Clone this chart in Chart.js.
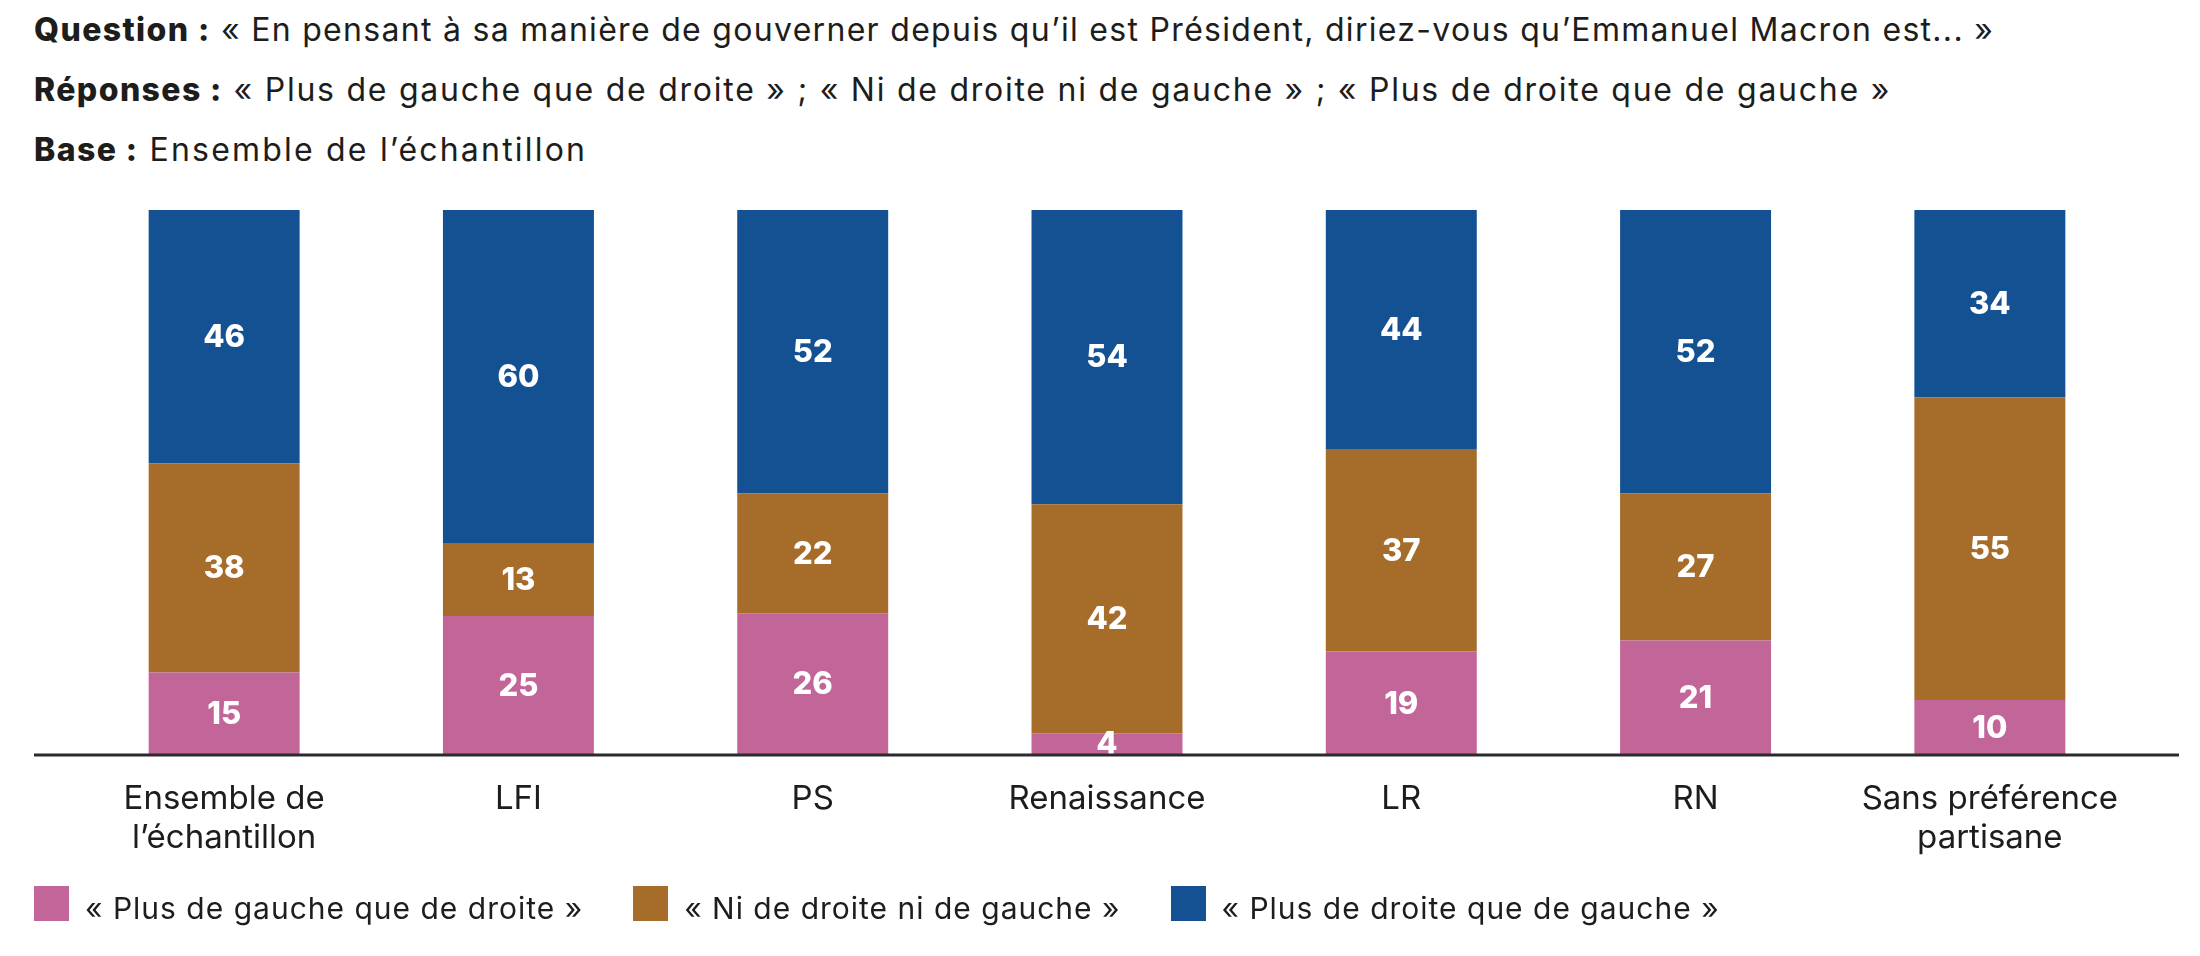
<!DOCTYPE html>
<html lang="fr">
<head>
<meta charset="utf-8">
<title>Macron : gauche ou droite ?</title>
<script src="https://cdn.jsdelivr.net/npm/chart.js@4/dist/chart.umd.min.js"></script>
<style>
  html, body { margin: 0; padding: 0; background: #fff; }
  body { width: 2200px; height: 956px; position: relative; overflow: hidden; font-family: Inter, sans-serif; color: #1d1d1b; }
  #chart { position: absolute; left: 0; top: 0; }
  #header { position: absolute; left: 34px; top: 0; font-size: 32px; line-height: 60px; white-space: nowrap; }
  #header p { margin: 0; }
  #header p:nth-child(1) { letter-spacing: 1.3px; }
  #header p:nth-child(2) { letter-spacing: 1.75px; }
  #header p:nth-child(3) { letter-spacing: 2.2px; }
  #header b { font-weight: 800; letter-spacing: 1.4px; }
  #legend { position: absolute; left: 34px; top: 886px; height: 35px; display: flex; align-items: center; font-size: 30px; letter-spacing: 1px; white-space: nowrap; }
  .item { display: flex; align-items: center; margin-right: 50px; }
  .item span:last-child { position: relative; top: 4px; }
  .box { width: 35px; height: 35px; margin-right: 16px; }
</style>
</head>
<body>
<div id="header">
  <p><b>Question :</b> « En pensant à sa manière de gouverner depuis qu’il est Président, diriez-vous qu’Emmanuel Macron est... »</p>
  <p><b>Réponses :</b> « Plus de gauche que de droite » ; « Ni de droite ni de gauche » ; « Plus de droite que de gauche »</p>
  <p><b>Base :</b> Ensemble de l’échantillon</p>
</div>
<canvas id="chart" width="2200" height="956"></canvas>
<div id="legend"></div>
<script>
// categories (multi-line labels as arrays)
const categories = [['Ensemble de', 'l’échantillon'], 'LFI', 'PS', 'Renaissance', 'LR', 'RN', ['Sans préférence', 'partisane']];

// answers, in %
const plusGauche = [15, 25, 26, 4, 19, 21, 10];
const niNi = [38, 13, 22, 42, 37, 27, 55];
const plusDroite = [46, 60, 52, 54, 44, 52, 34];

const seriesNames = ['« Plus de gauche que de droite »', '« Ni de droite ni de gauche »', '« Plus de droite que de gauche »'];
const seriesColors = ['#c26599', '#a66c29', '#135193'];

// bars are drawn on a 100% scale (some rows sum to 98/99)
const totals = categories.map((c, i) => plusGauche[i] + niNi[i] + plusDroite[i]);
const share = (arr) => arr.map((v, i) => v / totals[i] * 100);

const series = [plusGauche, niNi, plusDroite];
const datasets = series.map((arr, k) => ({
    label: seriesNames[k],
    data: share(arr),
    values: arr,
    backgroundColor: seriesColors[k],
    borderWidth: 0,
    barPercentage: 0.513,
    categoryPercentage: 1
}));

// white numbers in the middle of each segment
const valueLabels = {
    id: 'valueLabels',
    afterDatasetsDraw(chart) {
        const ctx = chart.ctx;
        ctx.save();
        ctx.font = '800 31px Inter';
        ctx.fillStyle = '#ffffff';
        ctx.textAlign = 'center';
        ctx.textBaseline = 'middle';
        chart.data.datasets.forEach((ds, i) => {
            chart.getDatasetMeta(i).data.forEach((bar, j) => {
                ctx.fillText(ds.values[j], bar.x, (bar.y + bar.base) / 2 + 1);
            });
        });
        ctx.restore();
    }
};

// baseline runs wider than the bar area
const baseLine = {
    id: 'baseLine',
    afterDraw(chart) {
        const ctx = chart.ctx;
        const y = chart.scales.y.getPixelForValue(0);
        ctx.save();
        ctx.strokeStyle = '#2b2b2b';
        ctx.lineWidth = 3;
        ctx.beginPath();
        ctx.moveTo(34, y);
        ctx.lineTo(2179, y);
        ctx.stroke();
        ctx.restore();
    }
};

new Chart(document.querySelector('#chart'), {
    type: 'bar',
    data: { labels: categories, datasets: datasets },
    options: {
        responsive: false,
        animation: false,
        devicePixelRatio: 1,
        layout: { padding: { left: 77, right: 63, top: 210, bottom: 0 } },
        plugins: {
            legend: { display: false },
            tooltip: { enabled: false }
        },
        scales: {
            x: {
                stacked: true,
                grid: { display: false, drawTicks: false },
                border: { display: false },
                ticks: {
                    padding: 25,
                    color: '#1d1d1b',
                    maxRotation: 0,
                    autoSkip: false,
                    font: { family: 'Inter', size: 33, lineHeight: 1.18 }
                },
                afterFit: (scale) => { scale.height = 201; }
            },
            y: { stacked: true, display: false, min: 0, max: 100 }
        }
    },
    plugins: [valueLabels, baseLine]
});

// html legend built from the series
const legend = document.querySelector('#legend');
seriesNames.forEach((name, k) => {
    const item = document.createElement('div');
    item.className = 'item';
    item.innerHTML = `<span class="box" style="background:${seriesColors[k]}"></span><span>${name}</span>`;
    legend.appendChild(item);
});
</script>
</body>
</html>
